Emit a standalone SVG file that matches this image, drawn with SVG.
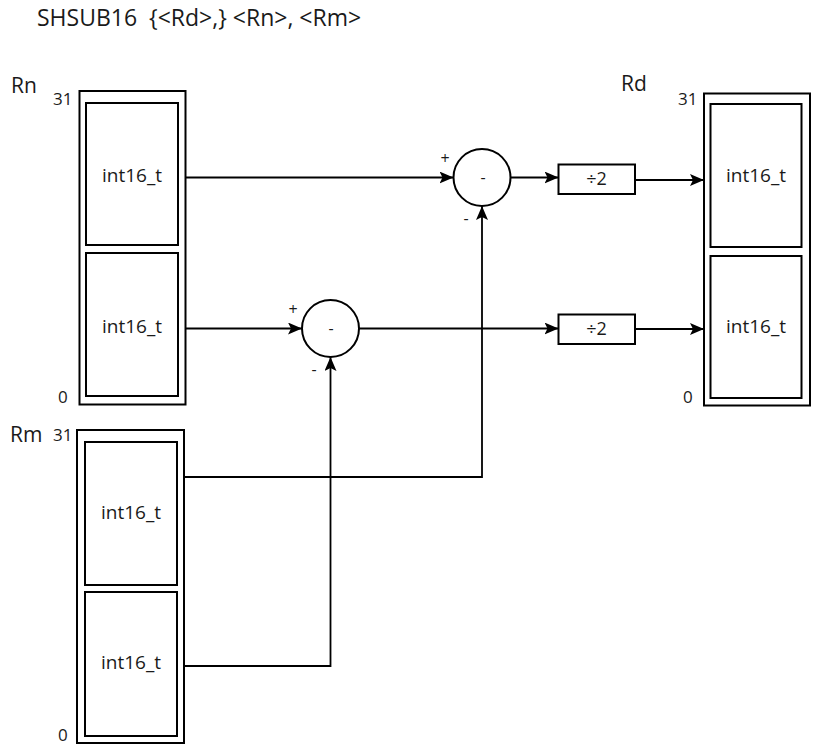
<svg xmlns="http://www.w3.org/2000/svg" width="813" height="755" viewBox="0 0 813 755">
<style>
.bx{fill:none;stroke:#000;stroke-width:2}
.ln{fill:none;stroke:#000;stroke-width:1.8}
.t{font-family:"Open Sans","Liberation Sans",sans-serif;fill:#1a1a1a}
.lbl{font-size:21px}
.num{font-size:17px}
.ty{font-size:19px;text-anchor:middle}
.dv{font-size:18px;text-anchor:middle}
.sg{font-size:16px;text-anchor:middle}
</style>
<defs>
<marker id="ah" viewBox="0 0 14 12" refX="14" refY="6" markerWidth="14" markerHeight="12" markerUnits="userSpaceOnUse" orient="auto">
<path d="M0,0 L14,6 L0,12 L3,6 Z" fill="#000"/>
</marker>
</defs>
<text class="t" x="37" y="26" font-size="23" xml:space="preserve">SHSUB16  {&lt;Rd&gt;,} &lt;Rn&gt;, &lt;Rm&gt;</text>

<g id="Rn">
<text class="t lbl" x="11" y="93">Rn</text>
<text class="t num" x="53" y="105">31</text>
<text class="t num" x="58" y="403">0</text>
<rect class="bx" x="79.5" y="91" width="106" height="313.5"/>
<rect class="bx" x="86" y="103" width="92" height="142"/>
<rect class="bx" x="86" y="253" width="92" height="143"/>
<text class="t ty" x="132" y="182">int16_t</text>
<text class="t ty" x="132" y="333">int16_t</text>
</g>

<g id="Rm">
<text class="t lbl" x="10" y="442">Rm</text>
<text class="t num" x="53" y="441">31</text>
<text class="t num" x="58" y="741">0</text>
<rect class="bx" x="77" y="430" width="107" height="313"/>
<rect class="bx" x="85" y="442" width="92" height="143"/>
<rect class="bx" x="85" y="592" width="92" height="144"/>
<text class="t ty" x="131" y="519">int16_t</text>
<text class="t ty" x="131" y="669">int16_t</text>
</g>

<g id="Rd">
<text class="t lbl" x="621" y="91">Rd</text>
<text class="t num" x="678" y="105">31</text>
<text class="t num" x="683" y="403">0</text>
<rect class="bx" x="704" y="93.5" width="106" height="312"/>
<rect class="bx" x="710.5" y="104" width="91" height="143"/>
<rect class="bx" x="710.5" y="256" width="91" height="142"/>
<text class="t ty" x="756" y="182">int16_t</text>
<text class="t ty" x="756" y="333">int16_t</text>
</g>

<g id="sub1">
<circle class="bx" cx="482" cy="177.5" r="28.5"/>
<text class="t sg" x="483" y="183">-</text>
<text class="t sg" x="445" y="164">+</text>
<text class="t sg" x="466" y="224">-</text>
</g>

<g id="sub2">
<circle class="bx" cx="330.5" cy="328.5" r="28.5"/>
<text class="t sg" x="331" y="334">-</text>
<text class="t sg" x="293" y="315">+</text>
<text class="t sg" x="314" y="375">-</text>
</g>

<g id="div1">
<rect class="bx" x="558.5" y="164.5" width="76.5" height="29.5"/>
<text class="t dv" x="596.5" y="185">÷2</text>
</g>

<g id="div2">
<rect class="bx" x="558.5" y="314.5" width="76.5" height="29.5"/>
<text class="t dv" x="596.5" y="335">÷2</text>
</g>

<g id="connectors">
<path class="ln" d="M186,177.5 H453.5" marker-end="url(#ah)"/>
<path class="ln" d="M184,477 H482 V206" marker-end="url(#ah)"/>
<path class="ln" d="M510.5,177.5 H558.5" marker-end="url(#ah)"/>
<path class="ln" d="M635,180 H704" marker-end="url(#ah)"/>
<path class="ln" d="M186,328.5 H302" marker-end="url(#ah)"/>
<path class="ln" d="M184,666 H330.5 V357" marker-end="url(#ah)"/>
<path class="ln" d="M359,328.5 H558.5" marker-end="url(#ah)"/>
<path class="ln" d="M635,329 H704" marker-end="url(#ah)"/>
</g>
</svg>
